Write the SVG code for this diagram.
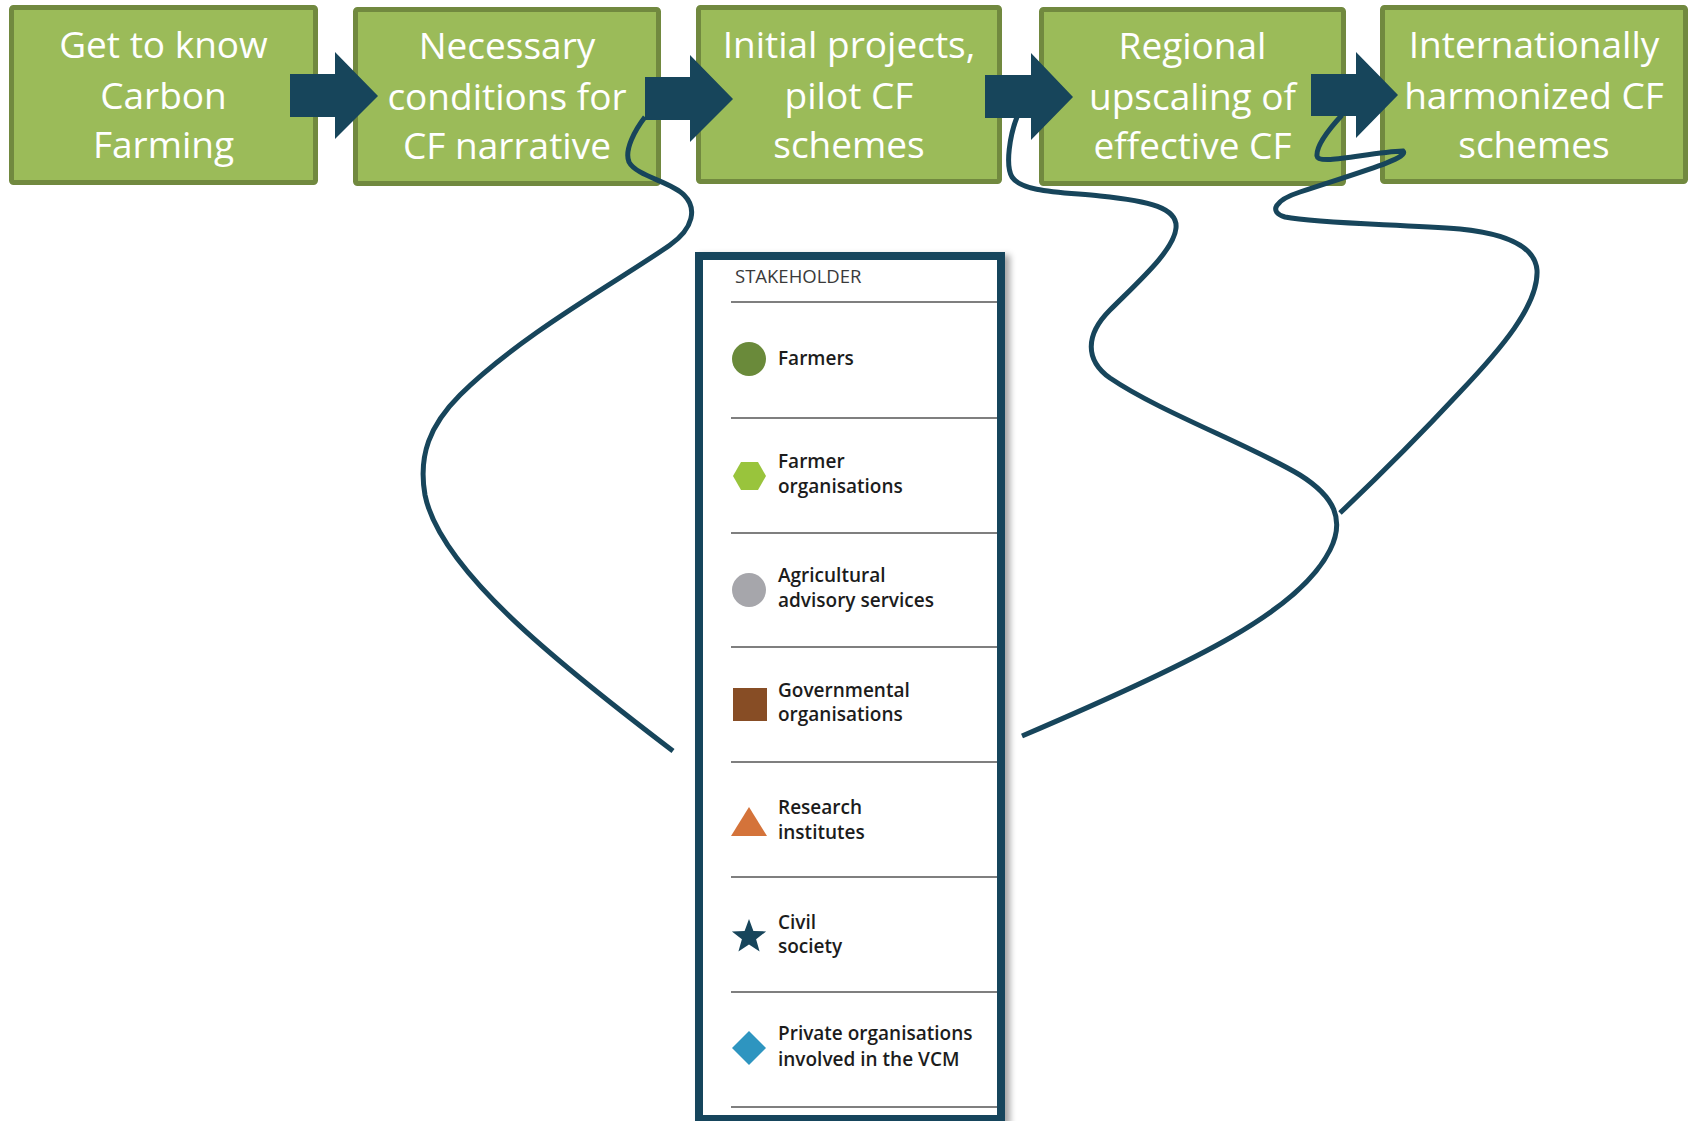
<svg xmlns="http://www.w3.org/2000/svg" width="1690" height="1121" viewBox="0 0 1690 1121">
<style>
.box{fill:#9BBB59;stroke:#71893F;stroke-width:5}
.bt{font-family:"Open Sans","Liberation Sans",sans-serif;font-size:37px;fill:#fff;text-anchor:middle}
.arr{fill:#17455B}
.curve{fill:none;stroke:#17455B;stroke-width:5;stroke-linecap:butt}
.sep{stroke:#555;stroke-width:1.5}
.lt{font-family:"Open Sans","Liberation Sans",sans-serif;font-size:19px;font-weight:600;fill:#1c1c1c}
.hd{font-family:"Open Sans","Liberation Sans",sans-serif;font-size:18.5px;fill:#3a3a3a}
</style>
<defs>
<filter id="sh" x="-5%" y="-5%" width="115%" height="115%">
<feDropShadow dx="5" dy="3" stdDeviation="3" flood-color="#000" flood-opacity="0.35"/>
</filter>
</defs>
<rect width="1690" height="1121" fill="#fff"/>

<g id="node-1">
<rect class="box" x="11.5" y="7.5" width="304" height="175" rx="2"/>
<text class="bt" x="163.5" y="58">Get to know</text>
<text class="bt" x="163.5" y="109">Carbon</text>
<text class="bt" x="163.5" y="158">Farming</text>
</g>
<g id="node-2">
<rect class="box" x="355.5" y="9.5" width="303" height="174" rx="2"/>
<text class="bt" x="507" y="59">Necessary</text>
<text class="bt" x="507" y="110">conditions for</text>
<text class="bt" x="507" y="159">CF narrative</text>
</g>
<g id="node-3">
<rect class="box" x="698.5" y="7.5" width="301" height="174" rx="2"/>
<text class="bt" x="849" y="58">Initial projects,</text>
<text class="bt" x="849" y="109">pilot CF</text>
<text class="bt" x="849" y="158">schemes</text>
</g>
<g id="node-4">
<rect class="box" x="1041.5" y="9.5" width="302" height="174" rx="2"/>
<text class="bt" x="1192.5" y="59">Regional</text>
<text class="bt" x="1192.5" y="110">upscaling of</text>
<text class="bt" x="1192.5" y="159">effective CF</text>
</g>
<g id="node-5">
<rect class="box" x="1382.5" y="7.5" width="303" height="174" rx="2"/>
<text class="bt" x="1534" y="58">Internationally</text>
<text class="bt" x="1534" y="109">harmonized CF</text>
<text class="bt" x="1534" y="158">schemes</text>
</g>

<g id="connectors">
<polygon class="arr" points="290,74 335,74 335,52 378,96 335,139 335,117 290,117"/>
<polygon class="arr" points="645,77 690,77 690,55 733,99 690,142 690,120 645,120"/>
<polygon class="arr" points="985,75 1031,75 1031,53 1073,97 1031,140 1031,118 985,118"/>
<polygon class="arr" points="1311,74 1356,74 1356,52 1398,95 1356,138 1356,116 1311,116"/>
<path class="curve" d="M645,117 C635,130 624,150 629,162 C636,176 672,182 684,195 C697,208 694,228 670,245 C620,280 520,335 460,395 C430,425 418,455 425,495 C440,570 560,665 673,751"/>
<path class="curve" d="M1017,117 C1010,135 1005,165 1012,177 C1022,192 1060,192 1100,196 C1150,201 1178,208 1176,228 C1174,250 1140,280 1110,310 C1085,335 1085,360 1110,378 C1160,412 1250,445 1300,475 C1335,497 1345,520 1330,550 C1300,610 1200,660 1022,736"/>
<path class="curve" d="M1342,115 C1330,128 1316,145 1317,156 C1318,166 1370,152 1403,151 C1410,158 1360,172 1300,192 C1275,200 1268,212 1285,217 C1320,224 1400,224 1460,229 C1510,234 1535,248 1537,270 C1539,305 1500,350 1460,392 C1420,435 1380,475 1340,513"/>
</g>

<g id="legend">
<rect x="699" y="256" width="302" height="863" fill="#fff" stroke="#17455B" stroke-width="8" filter="url(#sh)"/>
<text class="hd" x="735" y="283">STAKEHOLDER</text>
<line class="sep" x1="731" y1="302" x2="997" y2="302"/>
<line class="sep" x1="731" y1="418" x2="997" y2="418"/>
<line class="sep" x1="731" y1="533" x2="997" y2="533"/>
<line class="sep" x1="731" y1="647" x2="997" y2="647"/>
<line class="sep" x1="731" y1="762" x2="997" y2="762"/>
<line class="sep" x1="731" y1="877" x2="997" y2="877"/>
<line class="sep" x1="731" y1="992" x2="997" y2="992"/>
<line class="sep" x1="731" y1="1107" x2="997" y2="1107"/>
</g>
<g id="legend-farmers">
<circle cx="749" cy="359" r="17" fill="#6A8A3A"/>
<text class="lt" x="778" y="365">Farmers</text>
</g>
<g id="legend-farmer-organisations">
<polygon points="733,476 741,462 758,462 766,476 758,490 741,490" fill="#99C43C"/>
<text class="lt" x="778" y="468">Farmer</text>
<text class="lt" x="778" y="493">organisations</text>
</g>
<g id="legend-advisory">
<circle cx="749" cy="590" r="17" fill="#A6A6AB"/>
<text class="lt" x="778" y="582">Agricultural</text>
<text class="lt" x="778" y="607">advisory services</text>
</g>
<g id="legend-governmental">
<rect x="733" y="688" width="34" height="33" fill="#874D25"/>
<text class="lt" x="778" y="697">Governmental</text>
<text class="lt" x="778" y="721">organisations</text>
</g>
<g id="legend-research">
<polygon points="749,807 767,836 731,836" fill="#D4733A"/>
<text class="lt" x="778" y="814">Research</text>
<text class="lt" x="778" y="839">institutes</text>
</g>
<g id="legend-civil">
<polygon points="749,919 753.4,930.9 766.1,931.4 756.1,939.3 759.6,951.6 749,944.5 738.4,951.6 741.9,939.3 731.9,931.4 744.6,930.9" fill="#17455B"/>
<text class="lt" x="778" y="929">Civil</text>
<text class="lt" x="778" y="953">society</text>
</g>
<g id="legend-private">
<polygon points="749,1031 766,1048 749,1065 732,1048" fill="#2E95C0"/>
<text class="lt" x="778" y="1040">Private organisations</text>
<text class="lt" x="778" y="1066">involved in the VCM</text>
</g>
</svg>
